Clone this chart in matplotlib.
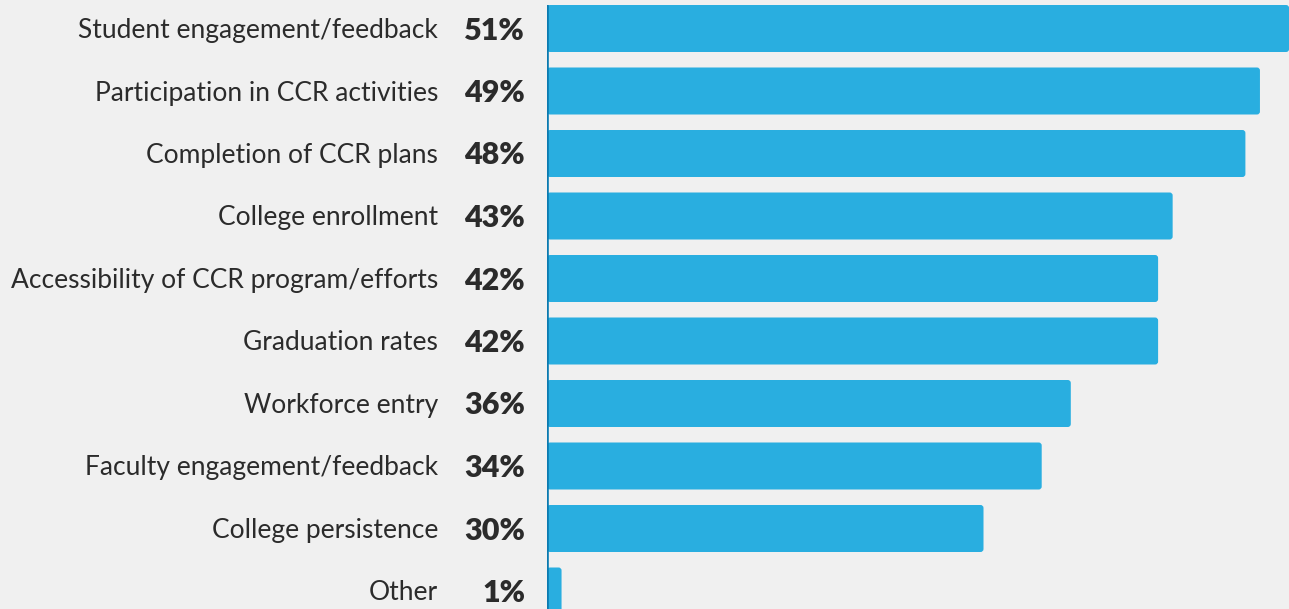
import matplotlib
matplotlib.use("Agg")
import matplotlib.pyplot as plt
from matplotlib.patches import FancyBboxPatch

categories = ["Student engagement/feedback", "Participation in CCR activities",
              "Completion of CCR plans", "College enrollment",
              "Accessibility of CCR program/efforts", "Graduation rates",
              "Workforce entry", "Faculty engagement/feedback",
              "College persistence", "Other"]
values = [51, 49, 48, 43, 42, 42, 36, 34, 30, 1]
labels = ["51%", "49%", "48%", "43%", "42%", "42%", "36%", "34%", "30%", "1%"]

W, H = 1289, 609
bg = "#f0f0f0"
bar_color = "#29aee0"
spine_color = "#0a7ab0"
text_color = "#2b2b2b"

fig = plt.figure(figsize=(W / 100, H / 100), dpi=100, facecolor=bg)
ax_left = 547 / W
ax = fig.add_axes([ax_left, 0, 1 - ax_left, 1])
ax.set_facecolor(bg)

px_per_unit = 14.55
xmax = (W - 547) / px_per_unit
ax.set_xlim(0, xmax)
pitch = 62.5
top_c = 28.5
ax.set_ylim((H - top_c) / pitch, -top_c / pitch)

bh = 47 / pitch
r_px = 3.0
aspect = px_per_unit / pitch
for i, v in enumerate(values):
    ax.add_patch(FancyBboxPatch((0, i - bh / 2), v, bh,
                                boxstyle=f"round,pad=0,rounding_size={r_px / px_per_unit}",
                                mutation_aspect=aspect,
                                facecolor=bar_color, edgecolor="none"))

ax.vlines(0, -bh / 2, (H - top_c) / pitch, color=spine_color, lw=2.6, zorder=5)

for s in ax.spines.values():
    s.set_visible(False)
ax.set_xticks([])
ax.set_yticks([])

for i, (c, l) in enumerate(zip(categories, labels)):
    y_fig = 1 - (top_c + i * pitch) / H
    fig.text(438 / W, y_fig - 2 / H, c, ha="right", va="center", fontsize=19,
             family="Lato", color=text_color)
    fig.text(525 / W, y_fig - 2 / H, l, ha="right", va="center", fontsize=22,
             family="Lato", weight="heavy", color=text_color)

fig.savefig("out.png", dpi=100, facecolor=bg)
